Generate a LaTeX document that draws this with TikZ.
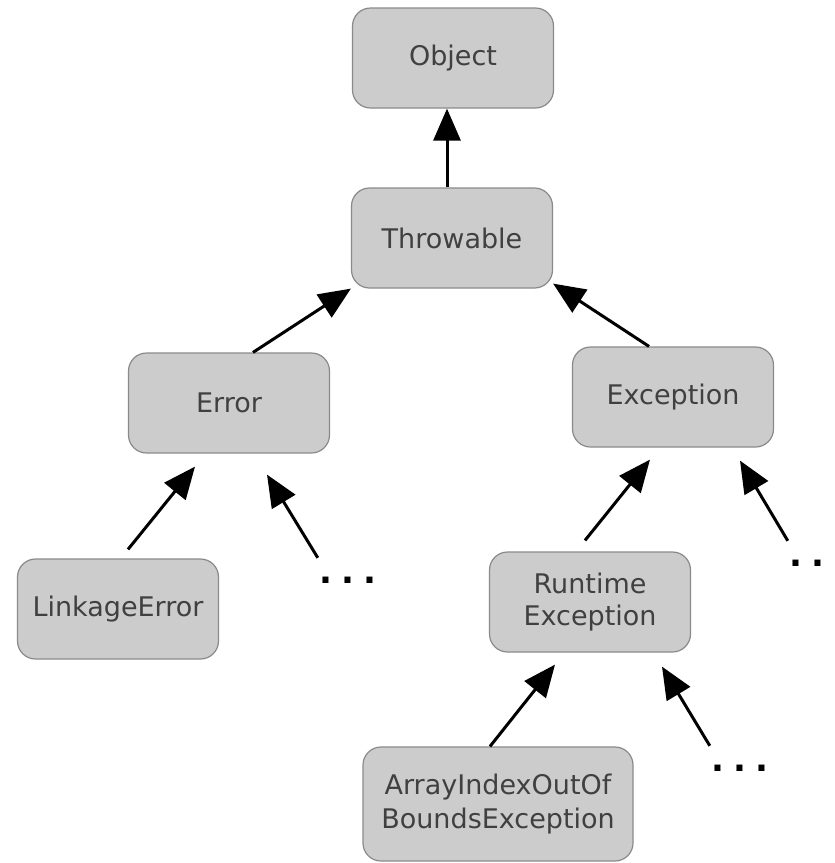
\documentclass[tikz,border=0pt]{standalone}
\usepackage{fontspec}
\setmainfont{DejaVu Sans}
\usetikzlibrary{arrows.meta}

\definecolor{boxfill}{HTML}{CCCCCC}
\definecolor{boxline}{HTML}{8A8A8A}
\definecolor{boxtext}{HTML}{404040}

\begin{document}
\begin{tikzpicture}[x=1pt,y=-1pt]
\tikzset{
    cls/.style={draw=boxline, fill=boxfill, line width=1.2pt, rounded corners=18pt,
        minimum width=201pt, minimum height=100pt, inner sep=0pt, align=center,
        text=boxtext, font=\fontsize{27}{32}\selectfont},
    more/.style={minimum width=60pt, minimum height=44pt, inner sep=0pt,
        font=\fontsize{34}{34}\selectfont\bfseries},
    inherits/.style={line width=3pt, -{Triangle[length=32pt,width=27pt]}},
}
\useasboundingbox (0,0) rectangle (835,863);

% The class boxes, top to bottom.
\node[cls] (object)     at (453,58)  {Object};
\node[cls] (throwable)  at (452,238) {Throwable};
\node[cls] (error)      at (229,403) {Error};
\node[cls] (exception)  at (673,397) {Exception};
\node[cls] (linkage)    at (118,609) {LinkageError};
\node[cls] (runtime)    at (590,602) {Runtime\\Exception};
\node[cls, minimum width=270pt, minimum height=114pt,
    font=\fontsize{27}{34}\selectfont] (arrayindex) at (498,804) {ArrayIndexOutOf\\BoundsException};

% The other subclasses that are left out.
\node[more] (more1) at (348,580) {.\hspace{9.5pt}.\hspace{9.5pt}.};
\node[more] (more2) at (818,563) {.\hspace{9.5pt}.\hspace{9.5pt}.};
\node[more] (more3) at (740,768) {.\hspace{9.5pt}.\hspace{9.5pt}.};

% Each class points up to its superclass.
\draw[inherits] ([shift={(-5,0)}]throwable.north) -- ([shift={(-6,0)}]object.south);
\draw[inherits] ([shift={(24,0)}]error.north) -- (throwable.south west);
\draw[inherits] ([shift={(-24,0)}]exception.north) -- ([shift={(0,-5)}]throwable.south east);
\draw[inherits] ([shift={(10,-9)}]linkage.north) -- ([shift={(-34,13)}]error.south);
\draw[inherits] (more1.north west) -- ([shift={(38,21)}]error.south);
\draw[inherits] ([shift={(-5,-11)}]runtime.north) -- ([shift={(-23,12)}]exception.south);
\draw[inherits] (more2.north west) -- ([shift={(67,13)}]exception.south);
\draw[inherits] ([shift={(-8,0)}]arrayindex.north) -- ([shift={(-35,12)}]runtime.south);
\draw[inherits] (more3.north west) -- ([shift={(72,14)}]runtime.south);
\end{tikzpicture}
\end{document}
